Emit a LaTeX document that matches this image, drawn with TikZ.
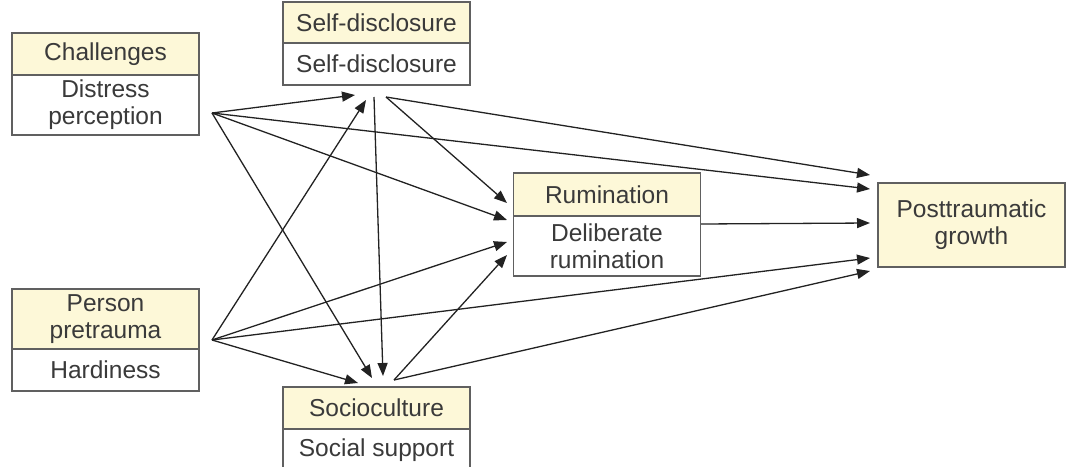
\documentclass[tikz,border=0pt]{standalone}
\usepackage{fontspec}
\setmainfont{Liberation Sans}
\usetikzlibrary{arrows.meta}
\definecolor{boxyellow}{RGB}{253,248,216}
\definecolor{boxline}{RGB}{96,96,96}
\definecolor{txt}{RGB}{58,58,58}
\definecolor{arrline}{RGB}{34,34,34}
\tikzset{
  box/.style={draw=boxline, line width=1.5pt, minimum width=187pt, inner sep=0pt,
    align=center, text=txt, font=\fontsize{24.5}{27}\selectfont},
  head/.style={box, fill=boxyellow},
  body/.style={box, fill=white},
  arr/.style={draw=arrline, line width=1.3pt, -{Triangle[length=13pt,width=10pt]}}
}

\begin{document}
\begin{tikzpicture}[x=1pt, y=-1pt]
\useasboundingbox (0,0) rectangle (1075,466);
% boxes
\node[head, minimum height=42pt] (chal) at (105.5,54) {Challenges};
\node[body, minimum height=60pt] (chalb) at (105.5,105) {Distress\\perception};
\node[head, minimum height=41pt] (self) at (376.5,22.5) {Self-disclosure};
\node[body, minimum height=42pt] (selfb) at (376.5,64) {Self-disclosure};
\node[head, minimum height=43pt] (rum) at (607,194.5) {Rumination};
\node[body, minimum height=60pt] (rumb) at (607,246) {Deliberate\\rumination};
\node[head, minimum height=84pt] (ptg) at (971.5,225) {Posttraumatic\\growth};
\node[head, minimum height=60pt] (pers) at (105.5,319) {Person\\pretrauma};
\node[body, minimum height=42pt] (persb) at (105.5,370) {Hardiness};
\node[head, minimum height=42pt] (soc) at (376.5,408) {Socioculture};
\node[body, minimum height=42pt] (socb) at (376.5,450) {Social support};

% connector ends
\coordinate (chalout) at (212,113);
\coordinate (persout) at (212,340);
\coordinate (selfin1) at (355,95);
\coordinate (selfin2) at (366,100);
\coordinate (selfout1) at (374,97);
\coordinate (selfout2) at (386,97);
\coordinate (socin1) at (358,383);
\coordinate (socin2) at (372,378);
\coordinate (socin3) at (383,376);
\coordinate (socout) at (394,380);
\coordinate (rumin1) at (507,203);
\coordinate (rumin2) at (507,220);
\coordinate (rumin3) at (507,242);
\coordinate (rumin4) at (507,255);
\coordinate (rumout) at (701,224);
\coordinate (ptgin1) at (870,175);
\coordinate (ptgin2) at (870,189);
\coordinate (ptgin3) at (870,223);
\coordinate (ptgin4) at (870,258);
\coordinate (ptgin5) at (870,271);

\foreach \a/\b in {chalout/selfin1, chalout/ptgin2, chalout/rumin2, chalout/socin2,
    persout/selfin2, persout/rumin3, persout/ptgin4, persout/socin1,
    selfout1/socin3, selfout2/rumin1, selfout2/ptgin1,
    socout/rumin4, socout/ptgin5, rumout/ptgin3}
  \draw[arr] (\a) -- (\b);
\end{tikzpicture}
\end{document}
